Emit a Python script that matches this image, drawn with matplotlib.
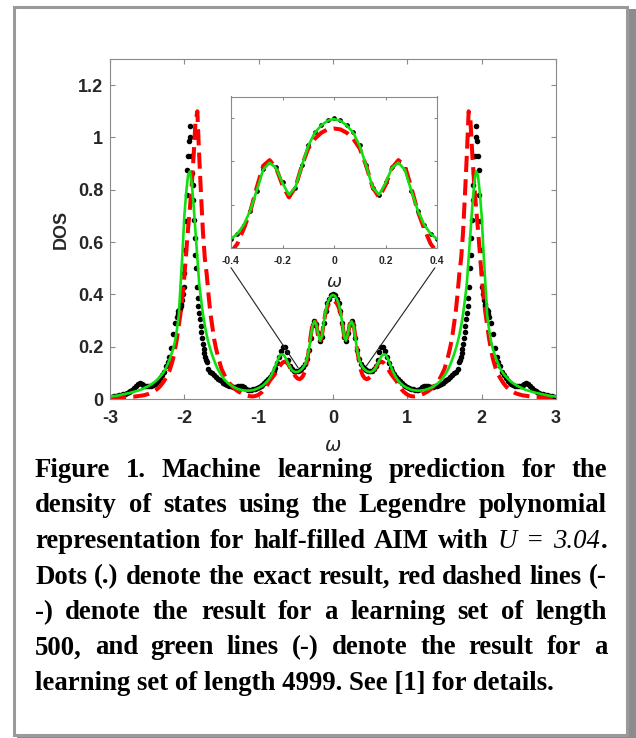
import numpy as np
import matplotlib
matplotlib.use("Agg")
from matplotlib import pyplot as plt
from matplotlib.patches import Rectangle, ConnectionPatch

W, H = 636, 738

# the DOS is symmetric about omega = 0, values read for omega >= 0
omega_exact_half = np.round(np.concatenate([
    np.arange(0, 1.69, 0.025),
    np.arange(1.70, 2.095, 0.01),
    np.arange(2.10, 3.001, 0.025)]), 3)
dos_exact_half = [
    0.401, 0.396, 0.384, 0.368, 0.338, 0.292, 0.238, 0.222, 0.252, 0.287,
    0.298, 0.282, 0.232, 0.186, 0.153, 0.132, 0.121, 0.115, 0.111, 0.108,
    0.106, 0.108, 0.115, 0.128, 0.150, 0.178, 0.197, 0.200, 0.185, 0.160,
    0.138, 0.120, 0.106, 0.094, 0.085, 0.076, 0.068, 0.061, 0.055, 0.050,
    0.046, 0.042, 0.039, 0.037, 0.035, 0.034, 0.035, 0.038, 0.044, 0.049,
    0.051, 0.050, 0.047, 0.046, 0.046, 0.048, 0.050, 0.054, 0.058, 0.063,
    0.068, 0.073, 0.078, 0.085, 0.092, 0.098, 0.103, 0.115,
    # 1.70 .. 2.09
    0.140, 0.150, 0.162, 0.176, 0.192, 0.210, 0.232, 0.255, 0.280, 0.305,
    0.330, 0.355, 0.385, 0.430, 0.500, 0.550, 0.615, 0.685, 0.760, 0.820,
    0.865, 0.930, 1.000, 1.044, 0.985, 0.930, 0.875, 0.780, 0.680, 0.570,
    0.480, 0.430, 0.400, 0.380, 0.365, 0.355, 0.345, 0.340, 0.335, 0.325,
    # 2.10 .. 3.00
    0.315, 0.290, 0.250, 0.195, 0.160, 0.140, 0.125, 0.105, 0.092, 0.080,
    0.070, 0.063, 0.058, 0.054, 0.051, 0.050, 0.050, 0.051, 0.054, 0.058,
    0.060, 0.058, 0.050, 0.042, 0.036, 0.031, 0.027, 0.024, 0.021, 0.019,
    0.017, 0.015, 0.013, 0.012, 0.010, 0.009, 0.008]

omega_fit_half = np.round(np.arange(0, 3.001, 0.025), 3)
dos_500_half = [
    0.376, 0.374, 0.366, 0.352, 0.330, 0.290, 0.240, 0.217, 0.245, 0.285,
    0.303, 0.290, 0.240, 0.185, 0.145, 0.110, 0.090, 0.080, 0.076, 0.078,
    0.085, 0.095, 0.107, 0.120, 0.132, 0.140, 0.143, 0.140, 0.132, 0.122,
    0.110, 0.098, 0.088, 0.079, 0.070, 0.058, 0.046, 0.036, 0.028, 0.022,
    0.017, 0.013, 0.011, 0.010, 0.010, 0.011, 0.013, 0.015, 0.018, 0.021,
    0.025, 0.029, 0.034, 0.040, 0.047, 0.055, 0.062, 0.072, 0.085, 0.100,
    0.115, 0.140, 0.165, 0.195, 0.230, 0.280, 0.330, 0.400, 0.480, 0.540,
    0.640, 0.780, 0.930, 1.100, 1.060, 0.930, 0.820, 0.730, 0.650, 0.560,
    0.470, 0.390, 0.330, 0.280, 0.230, 0.190, 0.155, 0.130, 0.108, 0.092,
    0.080, 0.068, 0.058, 0.049, 0.042, 0.036, 0.031, 0.027, 0.023, 0.020,
    0.018, 0.016, 0.014, 0.013, 0.012, 0.011, 0.010, 0.009, 0.009, 0.008,
    0.008, 0.007, 0.007, 0.006, 0.006, 0.006, 0.005, 0.005, 0.005, 0.005,
    0.005]
dos_4999_half = [
    0.398, 0.394, 0.383, 0.366, 0.336, 0.290, 0.240, 0.223, 0.250, 0.285,
    0.297, 0.281, 0.233, 0.187, 0.154, 0.133, 0.121, 0.113, 0.107, 0.104,
    0.103, 0.105, 0.110, 0.120, 0.134, 0.150, 0.163, 0.170, 0.170, 0.162,
    0.146, 0.127, 0.109, 0.094, 0.081, 0.071, 0.063, 0.056, 0.050, 0.046,
    0.042, 0.039, 0.036, 0.034, 0.033, 0.032, 0.032, 0.032, 0.033, 0.034,
    0.036, 0.038, 0.041, 0.044, 0.048, 0.053, 0.058, 0.064, 0.071, 0.080,
    0.090, 0.101, 0.114, 0.130, 0.148, 0.168, 0.190, 0.215, 0.245, 0.282,
    0.325, 0.380, 0.440, 0.540, 0.640, 0.740, 0.825, 0.870, 0.855, 0.790,
    0.700, 0.560, 0.440, 0.320, 0.265, 0.222, 0.192, 0.170, 0.150, 0.132,
    0.116, 0.104, 0.094, 0.086, 0.078, 0.071, 0.065, 0.060, 0.055, 0.051,
    0.047, 0.044, 0.040, 0.037, 0.034, 0.032, 0.030, 0.028, 0.026, 0.024,
    0.022, 0.021, 0.019, 0.018, 0.016, 0.015, 0.013, 0.012, 0.011, 0.010,
    0.009]

caption_lines = [
    "Figure 1. Machine learning prediction for the",
    "density of states using the Legendre polynomial",
    "representation for half-filled AIM with U = 3.04.",
    "Dots (.) denote the exact result, red dashed lines (-",
    "-) denote the result for a learning set of length",
    "500, and green lines (-) denote the result for a",
    "learning set of length 4999. See [1] for details.",
]
italic_words = {"U", "=", "3.04"}


def mirror(half_x, half_y):
    hx = np.asarray(half_x)
    hy = np.asarray(half_y)
    return np.concatenate([-hx[:0:-1], hx]), np.concatenate([hy[:0:-1], hy])


w_ex, d_ex = mirror(omega_exact_half, dos_exact_half)
w_fit, d_500 = mirror(omega_fit_half, dos_500_half)
_, d_4999 = mirror(omega_fit_half, dos_4999_half)

plt.rcParams["font.family"] = ["Liberation Sans", "DejaVu Sans"]
plt.rcParams["font.weight"] = "bold"
plt.rcParams["axes.unicode_minus"] = False

GREEN = "#10e010"
AXC = "#8a8a8a"
TXT = "#262626"

fig = plt.figure(figsize=(W / 100, H / 100), dpi=100)
fig.patch.set_facecolor("white")

# frame with a shadow
fig.patches.append(Rectangle((17 / W, 0), (636 - 17) / W, (738 - 9) / H,
                             transform=fig.transFigure, facecolor="#8c8c8c",
                             edgecolor="none", zorder=-11))
fig.patches.append(Rectangle((13.5 / W, 1 - 734.5 / H), 613 / W, 728 / H,
                             transform=fig.transFigure, facecolor="white",
                             edgecolor="#9a9a9a", linewidth=2.2, zorder=-10))


def style_axes(a, size, pad):
    for s in a.spines.values():
        s.set_color(AXC)
        s.set_linewidth(0.8)
    a.tick_params(direction="in", top=True, right=True, length=3.5,
                  width=0.8, color=AXC, labelcolor=TXT, labelsize=size)
    a.tick_params(axis="x", pad=pad)


def draw_curves(a, ms):
    a.plot(w_ex, d_ex, "o", ms=ms, mew=0, color="black")
    a.plot(w_fit, d_500, "--", color="red", lw=2.9, dashes=(4, 1.8))
    a.plot(w_fit, d_4999, "-", color=GREEN, lw=1.9)


ax = fig.add_axes([110 / W, 1 - 399 / H, 446 / W, 340 / H])
draw_curves(ax, 4.0)
ax.set_xlim(-3, 3)
ax.set_ylim(0, 1.3)
ax.set_xticks([-3, -2, -1, 0, 1, 2, 3])
ax.set_yticks([0, 0.2, 0.4, 0.6, 0.8, 1.0, 1.2])
ax.set_yticklabels(["0", "0.2", "0.4", "0.6", "0.8", "1", "1.2"])
style_axes(ax, 13, 8)
ax.tick_params(axis="y", pad=5)
ax.set_xlabel("ω", fontsize=14, color=TXT, fontweight="normal",
              family="DejaVu Sans", style="italic")
ax.xaxis.set_label_coords(0.5, -0.11)
ax.set_ylabel("DOS", fontsize=13, fontweight="bold", color=TXT)
ax.yaxis.set_label_coords(-0.09, 0.5)

ins = fig.add_axes([231 / W, 1 - 248 / H, 206 / W, 151.5 / H])
draw_curves(ins, 3.4)
ins.set_xlim(-0.4, 0.4)
ins.set_ylim(0.1, 0.45)
ins.set_xticks([-0.4, -0.2, 0, 0.2, 0.4])
ins.set_xticklabels(["-0.4", "-0.2", "0", "0.2", "0.4"])
ins.set_yticks([0.2, 0.3, 0.4])
style_axes(ins, 7.5, 6)
ins.tick_params(axis="y", labelleft=False, length=2.5)
ins.tick_params(axis="x", length=2.5)
ins.set_xlabel("ω", fontsize=13, color=TXT, fontweight="normal",
               family="DejaVu Sans", style="italic", labelpad=5)

for xa, xb, yb in [(0.0, -0.47, 0.12), (0.99, 0.446, 0.125)]:
    cp = ConnectionPatch(xyA=(xa, -0.13), coordsA=ins.transAxes,
                         xyB=(xb, yb), coordsB=ax.transData,
                         color="#222222", lw=0.8, zorder=5)
    fig.add_artist(cp)

# caption, justified between two margins
renderer = fig.canvas.get_renderer()
LEFT, RIGHT = 35, 607
BASE0, STEP = 477, 35.5


def measure(s, **kw):
    t = fig.text(0, 0, s, **kw)
    w = t.get_window_extent(renderer).width
    t.remove()
    return w


base_kw = dict(family="Liberation Serif", fontweight="bold", color="black")
fs = 16 * 520 / measure(caption_lines[-1], fontsize=16, **base_kw)


def pieces(word):
    if word in italic_words:
        return [(word, True)]
    if word == "3.04.":
        return [("3.04", True), (".", False)]
    return [(word, False)]


def kw_for(it):
    kw = dict(base_kw, fontsize=fs)
    if it:
        kw["style"] = "italic"
        kw["fontweight"] = "normal"
    return kw


for i, line in enumerate(caption_lines):
    y = 1 - (BASE0 + i * STEP) / H
    if i == len(caption_lines) - 1:
        fig.text(LEFT / W, y, line, va="baseline", ha="left", **kw_for(False))
        continue
    words = [pieces(w) for w in line.split(" ")]
    widths = [sum(measure(s, **kw_for(it)) for s, it in wd) for wd in words]
    gap = (RIGHT - LEFT - sum(widths)) / (len(words) - 1)
    x = LEFT
    for wd, wid in zip(words, widths):
        xx = x
        for s, it in wd:
            fig.text(xx / W, y, s, va="baseline", ha="left", **kw_for(it))
            xx += measure(s, **kw_for(it))
        x += wid + gap

fig.savefig("out.png", dpi=100)
